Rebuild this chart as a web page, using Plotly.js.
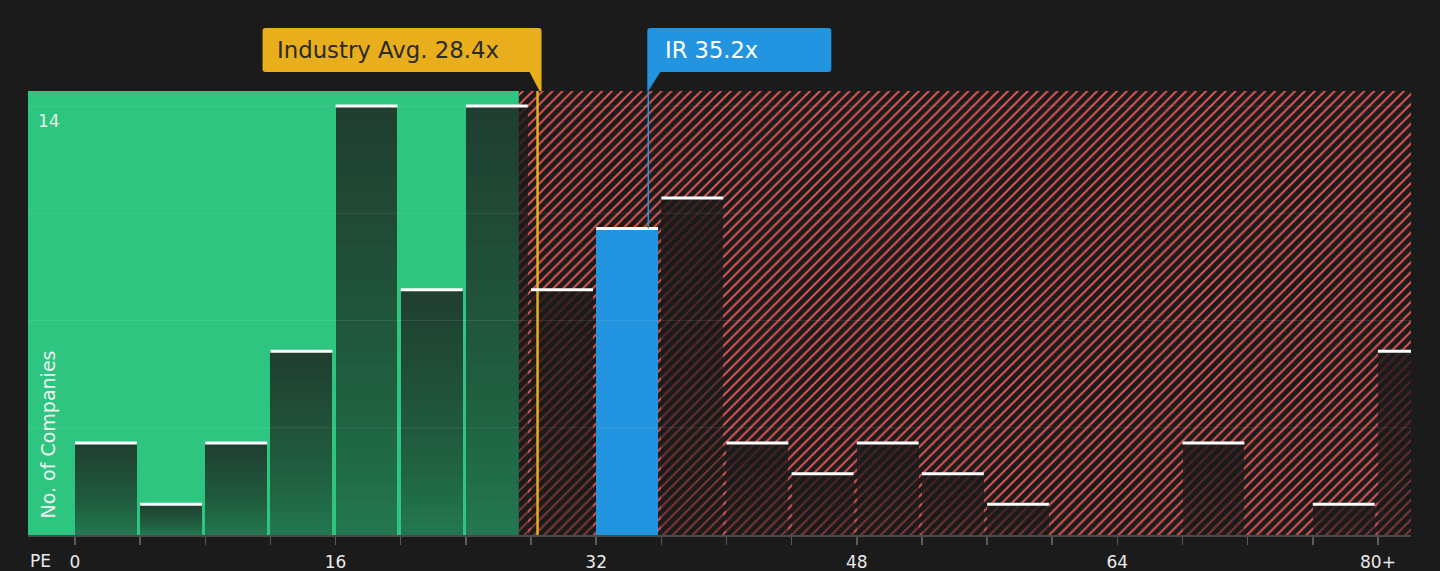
<!DOCTYPE html>
<html>
<head>
<meta charset="utf-8">
<script src="https://cdn.plot.ly/plotly-3.0.1.min.js"></script>
<style>html,body{margin:0;padding:0;background:#1b1b1b;overflow:hidden;}</style>
</head>
<body>
<div id="chart" style="width:1440px;height:571px"></div>
<script>
// ---- data ----
const binStarts = [0,4,8,12,16,20,24,28,32,36,40,44,48,52,56,60,64,68,72,76,80];
const counts    = [3,1,3,6,14,8,14,8,10,11,3,2,3,2,1,0,0,3,0,1,6];
const tickVals   = [0,4,8,12,16,20,24,28,32,36,40,44,48,52,56,60,64,68,72,76,80];
const tickLabels = ['0','','','','16','','','','32','','','','48','','','','64','','','','80+'];
const gridVals = [3.5,7,10.5,14];
const binWidth = 4;
const industryAvg = 28.4;
const industryLabel = 'Industry Avg. 28.4x';
const companyPE = 35.2;
const companyLabel = 'IR 35.2x';
const fairLimit = 27.25;
const xRange = [-2.886, 82.03];
const yRange = [0, 14.49];

// ---- styles ----
const barW = binWidth * 0.95;
const greenBg = '#2dc57f';
const hatchRed = '#dc5452';
const bgDark = '#1b1b1b';
const blue = '#2394e0';
const yellow = '#e9ae1b';
const barDark = [27,27,27];

const irIndex = binStarts.findIndex(s => companyPE >= s && companyPE < s + binWidth);

const traces = [];
// hatched overvalued region
traces.push({
  type:'bar', x:[fairLimit], y:[yRange[1]], base:[0], offset:0, width:[xRange[1]-fairLimit],
  marker:{color:bgDark, line:{width:0},
    pattern:{shape:'/', fgcolor:hatchRed, bgcolor:bgDark, size:7, solidity:0.28, fillmode:'replace'}},
  hoverinfo:'skip', showlegend:false
});
// industry avg line
traces.push({
  type:'scatter', mode:'lines', x:[industryAvg, industryAvg], y:[0, yRange[1]],
  line:{color:yellow, width:2.5}, hoverinfo:'skip', showlegend:false
});
// base bars
const rgba = (a) => `rgba(${barDark[0]},${barDark[1]},${barDark[2]},${a})`;
const alphaBottom = 0.46, alphaTop = 0.75;
traces.push({
  type:'bar', x:binStarts, y:counts, offset:0, width:barW,
  marker:{color: binStarts.map((s,i) => i === irIndex ? blue : rgba(alphaBottom)), line:{width:0}},
  hoverinfo:'skip', showlegend:false
});
// gradient layers (darker toward the top of each bar)
const N = 24;
const layerAlpha = 1 - Math.pow((1-alphaTop)/(1-alphaBottom), 1/N);
for (let k = 1; k <= N; k++) {
  const f = k/(N+1);
  traces.push({
    type:'bar', x:binStarts, base:counts.map(c => c*f), y:counts.map(c => c*(1-f)), offset:0, width:barW,
    marker:{color: binStarts.map((s,i) => i === irIndex ? 'rgba(0,0,0,0)' : rgba(layerAlpha.toFixed(4))), line:{width:0}},
    hoverinfo:'skip', showlegend:false
  });
}
// white bar tops
const topX = [], topY = [];
binStarts.forEach((s,i) => { if (counts[i] > 0) { topX.push(s, s+barW, null); topY.push(counts[i], counts[i], null); } });
traces.push({
  type:'scatter', mode:'lines', x:topX, y:topY, line:{color:'#ffffff', width:3},
  hoverinfo:'skip', showlegend:false
});
// company line
traces.push({
  type:'scatter', mode:'lines', x:[companyPE, companyPE], y:[counts[irIndex], yRange[1]],
  line:{color:blue, width:1.5}, hoverinfo:'skip', showlegend:false
});

const shapes = [
  {type:'rect', xref:'x', yref:'paper', x0:xRange[0], x1:fairLimit, y0:0, y1:1,
   fillcolor:greenBg, line:{width:0}, layer:'below'}
];
gridVals.forEach(v => shapes.push({type:'line', xref:'paper', yref:'y', x0:0, x1:1, y0:v, y1:v,
  line:{color:'rgba(255,255,255,0.09)', width:1}, layer:'above'}));
// label boxes with pointers (pixel offsets relative to anchor)
shapes.push({type:'path', xref:'x', yref:'paper', xsizemode:'pixel', ysizemode:'pixel',
  xanchor:industryAvg, yanchor:1,
  path:'M -275,60 Q -275,63 -272,63 L 1,63 Q 4,63 4,60 L 4,0 L 2,0 L -8,19 L -272,19 Q -275,19 -275,22 Z',
  fillcolor:yellow, line:{width:0}, layer:'above'});
shapes.push({type:'path', xref:'x', yref:'paper', xsizemode:'pixel', ysizemode:'pixel',
  xanchor:companyPE, yanchor:1,
  path:'M -1,60 Q -1,63 2,63 L 180,63 Q 183,63 183,60 L 183,22 Q 183,19 180,19 L 12,19 L 0,0 L -1,0 Z',
  fillcolor:blue, line:{width:0}, layer:'above'});

const FONT = 'DejaVu Sans, Verdana, sans-serif';
const annotations = [
  {xref:'x', yref:'paper', x:industryAvg, y:1, xanchor:'left', yanchor:'middle', xshift:-263, yshift:41,
   text:industryLabel, showarrow:false, font:{family:FONT, size:22.8, color:'#2a2a2a'}},
  {xref:'x', yref:'paper', x:companyPE, y:1, xanchor:'left', yanchor:'middle', xshift:15, yshift:41,
   text:companyLabel, showarrow:false, font:{family:FONT, size:22.6, color:'#ffffff'}},
  {xref:'paper', yref:'y', x:0, y:14, xanchor:'left', yanchor:'top', xshift:8, yshift:-3,
   text:'14', showarrow:false, font:{family:FONT, size:17, color:'#eaeaea'}},
  {xref:'paper', yref:'paper', x:0, y:0, xanchor:'left', yanchor:'middle', xshift:2, yshift:-26,
   borderpad:0, borderwidth:0,
   text:'PE', showarrow:false, font:{family:FONT, size:17, color:'#eaeaea'}},
  {xref:'paper', yref:'paper', x:20/1383, y:0.2264, xanchor:'center', yanchor:'middle', textangle:-90,
   text:'No. of Companies', showarrow:false, font:{family:FONT, size:19, color:'#f0f0f0'}}
];

const layout = {
  width:1440, height:571,
  margin:{l:28, r:29, t:91, b:36, pad:0},
  paper_bgcolor:bgDark, plot_bgcolor:bgDark,
  barmode:'overlay', bargap:0,
  showlegend:false, hovermode:false,
  font:{family:FONT, color:'#eaeaea'},
  xaxis:{range:xRange, tickmode:'array', tickvals:tickVals, ticktext:tickLabels,
    ticks:'outside', ticklen:8, tickwidth:1.5, tickcolor:'#5a5a5a', ticklabelstandoff:3,
    showline:true, linecolor:'#4a4a4a', linewidth:2, showgrid:false, zeroline:false,
    tickfont:{family:FONT, size:17, color:'#eaeaea'}, fixedrange:true},
  yaxis:{range:yRange, showgrid:false, showticklabels:false, zeroline:false, ticks:'', showline:false, fixedrange:true},
  shapes:shapes, annotations:annotations
};

Plotly.newPlot('chart', traces, layout, {staticPlot:true, displayModeBar:false});
</script>
</body>
</html>
